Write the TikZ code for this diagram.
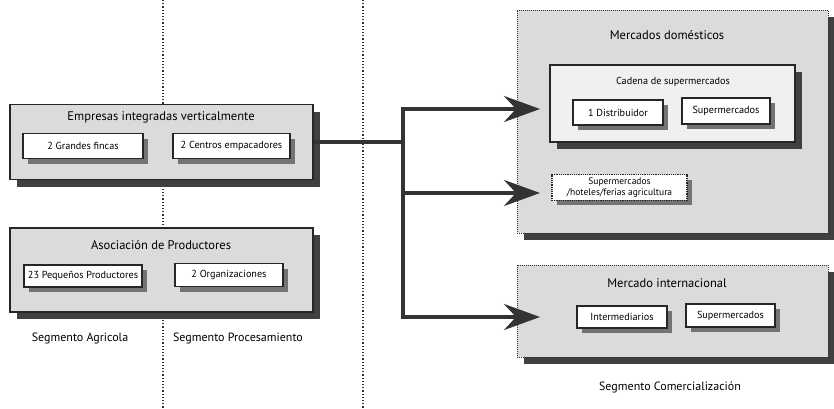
\documentclass[tikz,border=0pt]{standalone}
\usepackage{fontspec}
\setmainfont{PT Sans}
\usetikzlibrary{shadows,arrows.meta}

\begin{document}
\begin{tikzpicture}[x=1pt,y=-1pt,
    outer/.style={draw=black!85,line width=1.4pt,fill=black!14,
      drop shadow={shadow xshift=7pt,shadow yshift=-7pt,fill=black!75,opacity=1}},
    outerdot/.style={outer,draw=black!80,line width=1pt,densely dotted},
    inner/.style={draw=black!85,line width=1.2pt,fill=white,font=\fontsize{10.2}{11}\selectfont,
      drop shadow={shadow xshift=5pt,shadow yshift=-5pt,fill=black!55,opacity=1}},
    title/.style={font=\fontsize{12.5}{14}\selectfont},
    subtitle/.style={font=\fontsize{10.2}{11}\selectfont},
    seg/.style={font=\fontsize{12}{14}\selectfont},
    conn/.style={draw=black!80,line width=4pt},
    arr/.style={conn,-{Stealth[length=36pt,width=26pt,inset=12pt]}}]
  \useasboundingbox (0,0) rectangle (834,408);
  \draw[dotted,line width=1.2pt,black!80] (163,0) -- (163,408);
  \draw[dotted,line width=1.2pt,black!80] (363,0) -- (363,408);

  % segmento agricola / procesamiento
  \node[outer,minimum width=303pt,minimum height=75pt] (emp) at (161.5,142) {};
  \node[title] (emptitle) at (161,117) {Empresas integradas verticalmente};
  \node[inner,minimum width=120pt,minimum height=25pt] (fincas) at (83,146) {2 Grandes fincas};
  \node[inner,minimum width=117pt,minimum height=25pt] (centros) at (231.5,146) {2 Centros empacadores};

  \node[outer,minimum width=303pt,minimum height=84pt] (asoc) at (161.5,270) {};
  \node[title] (asoctitle) at (161,245) {Asociación de Productores};
  \node[inner,minimum width=118pt,minimum height=22pt] (pequenos) at (83,276) {23 Pequeños Productores};
  \node[inner,minimum width=108pt,minimum height=23pt] (organiz) at (229,275) {2 Organizaciones};

  \node[seg] (segagr) at (80,338) {Segmento Agricola};
  \node[seg] (segproc) at (238,338) {Segmento Procesamiento};

  % segmento comercializacion
  \node[outerdot,minimum width=311pt,minimum height=223pt] (dom) at (672.5,121.5) {};
  \node[title] (domtitle) at (667,35) {Mercados domésticos};
  \node[outer,fill=black!6,minimum width=245pt,minimum height=77pt] (cadena) at (672.5,103.5) {};
  \node[subtitle] (cadtitle) at (673,82) {Cadena de supermercados};
  \node[inner,minimum width=90pt,minimum height=25pt] (distrib) at (618,112.5) {1 Distribuidor};
  \node[inner,minimum width=88pt,minimum height=26pt] (supa) at (726,111) {Supermercados};
  \node[inner,densely dotted,align=center,minimum width=135pt,minimum height=25pt,
    font=\fontsize{9.5}{10.5}\selectfont] (hoteles) at (619.5,187.5) {Supermercados\\/hoteles/ferias agricultura};

  \node[outerdot,minimum width=311pt,minimum height=92pt] (intl) at (672.5,311) {};
  \node[title] (intltitle) at (667,283) {Mercado internacional};
  \node[inner,minimum width=90pt,minimum height=22pt] (interm) at (622,317) {Intermediarios};
  \node[inner,minimum width=89pt,minimum height=23pt] (supb) at (730.5,315.5) {Supermercados};

  \node[seg] (segcom) at (670,387) {Segmento Comercialización};

  % conectores
  \coordinate (split) at (403,142);
  \coordinate (top) at (403,109);
  \coordinate (mid) at (403,193);
  \coordinate (bot) at (403,317);
  \draw[conn] (emp.east) -- (split);
  \draw[conn,line cap=rect] (top) -- (bot);
  \draw[arr] (top) -- (540,109);
  \draw[arr] (mid) -- (540,193);
  \draw[arr] (bot) -- (540,317);
\end{tikzpicture}
\end{document}
